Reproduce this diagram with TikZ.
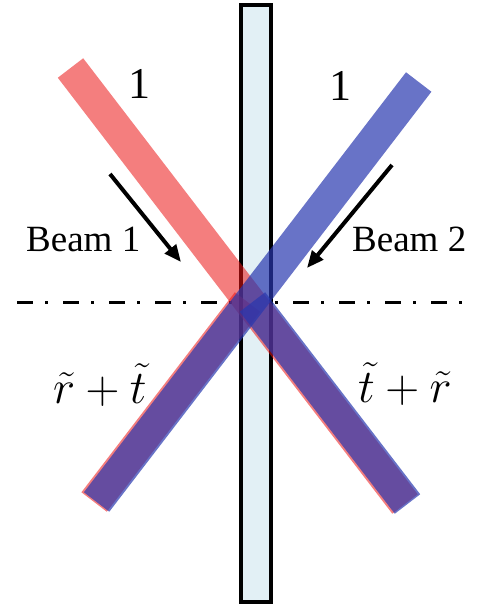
\RequirePackage{fix-cm}
\documentclass[tikz,border=0pt]{standalone}
\usepackage{fontspec}
\setmainfont{Liberation Serif}
\usetikzlibrary{arrows.meta}
\definecolor{beamred}{RGB}{235,20,20}
\definecolor{beamblue}{RGB}{40,55,175}
\definecolor{slabfill}{RGB}{226,240,245}
\begin{document}
\begin{tikzpicture}[x=1pt,y=-1pt,
  redbeam/.style={line width=32pt, draw=beamred, draw opacity=0.55},
  bluebeam/.style={line width=32pt, draw=beamblue, draw opacity=0.7},
  beamarrow/.style={line width=4pt, -{Triangle[length=17pt,width=14pt]}},
  lbl/.style={inner sep=0pt, font=\fontsize{37}{40}\selectfont},
  numlbl/.style={inner sep=0pt, font=\fontsize{44}{48}\selectfont},
  mathlbl/.style={inner sep=0pt, font=\fontsize{47}{52}\selectfont}]
\useasboundingbox (0,0) rectangle (483,606);
% axis
\coordinate (axL) at (17,302);
\coordinate (axR) at (473,302);
\draw[line width=3pt, dash pattern=on 16pt off 12pt on 3pt off 15pt] (axL) -- (axR);
% slab
\draw[line width=4pt, fill=slabfill] (240.5,4.5) rectangle (270.5,601.5);
% beam geometry
\coordinate (C) at (250,302);
\coordinate (Cl) at (247.5,302);
\coordinate (Cr) at (252.5,302);
\coordinate (R1) at (70.5,68);
\coordinate (B1) at (418.7,82);
\coordinate (LL) at (96.6,502);
\coordinate (LLr) at (94.1,502);
\coordinate (LR) at (405,504);
\coordinate (LRb) at (407.5,504);
% beams
\draw[redbeam] (R1) -- (LR);
\draw[redbeam] (Cl) -- (LLr);
\draw[bluebeam] (B1) -- (LL);
\draw[bluebeam] (Cr) -- (LRb);
% arrows
\coordinate (a1s) at (110,174);
\coordinate (a1e) at (181,262);
\coordinate (a2s) at (392,165);
\coordinate (a2e) at (307,268);
\draw[beamarrow] (a1s) -- (a1e);
\draw[beamarrow] (a2s) -- (a2e);
% labels
\node[lbl, anchor=base west] (beam1) at (26,251) {Beam 1};
\node[lbl, anchor=base west] (beam2) at (352,251.5) {Beam 2};
\node[numlbl, anchor=base] (one1) at (139.5,98) {1};
\node[numlbl, anchor=base] (one2) at (340.5,100.5) {1};
\node[mathlbl, anchor=base west] (rt) at (53,403) {$\tilde r + \tilde t$};
\node[mathlbl, anchor=base west] (tr) at (358,402) {$\tilde t + \tilde r$};
\end{tikzpicture}
\end{document}
